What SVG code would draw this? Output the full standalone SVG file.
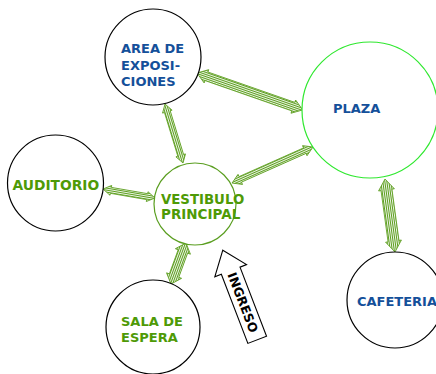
<svg xmlns="http://www.w3.org/2000/svg" width="436" height="374" viewBox="0 0 436 374">
<style>
.node{fill:#fff;stroke:#000;stroke-width:1.2}
.t{font-family:"DejaVu Sans","Verdana",sans-serif;font-weight:bold;font-size:13px}
.blue{fill:#14509a}
.green{fill:#4e9a06}
.arr{fill:url(#stripes);stroke:#5c9e1e;stroke-width:0.8;stroke-linejoin:miter}
</style>
<defs>
<pattern id="stripes" patternUnits="userSpaceOnUse" width="4" height="2">
<rect x="0" y="0" width="4" height="2" fill="#fff"/>
<rect x="0" y="0" width="4" height="1.1" fill="#5c9e1e"/>
</pattern>
</defs>
<rect width="436" height="374" fill="#fff"/>
<g id="connectors">
<g transform="translate(197,73) rotate(19.24)"><polygon class="arr" points="0,0 10,-7 10,-4.5 102,-4.5 102,-7 112,0 102,7 102,4.5 10,4.5 10,7"/></g>
<g transform="translate(165,104) rotate(73)"><polygon class="arr" points="0,0 8,-5 8,-3 53.7,-3 53.7,-5 61.7,0 53.7,5 53.7,3 8,3 8,5"/></g>
<g transform="translate(103,189) rotate(9.8)"><polygon class="arr" points="0,0 8,-5 8,-3 44.8,-3 44.8,-5 52.8,0 44.8,5 44.8,3 8,3 8,5"/></g>
<g transform="translate(313,147) rotate(156)"><polygon class="arr" points="0,0 9,-5.5 9,-3 79.6,-3 79.6,-5.5 88.6,0 79.6,5.5 79.6,3 9,3 9,5.5"/></g>
<g transform="translate(186,243) rotate(110.1)"><polygon class="arr" points="0,0 9,-8 9,-5 34.7,-5 34.7,-8 43.7,0 34.7,8 34.7,5 9,5 9,8"/></g>
<g transform="translate(385,179) rotate(82.2)"><polygon class="arr" points="0,0 11,-8 11,-5.5 62.7,-5.5 62.7,-8 73.7,0 62.7,8 62.7,5.5 11,5.5 11,8"/></g>
</g>
<g id="area">
<circle class="node" cx="153" cy="57" r="48"/>
<text class="t blue" x="121" y="53">AREA DE</text>
<text class="t blue" x="121" y="70">EXPOSI-</text>
<text class="t blue" x="121" y="86">CIONES</text>
</g>
<g id="plaza">
<circle cx="370" cy="110" r="68" fill="#fff" stroke="#2fe82f" stroke-width="1.2"/>
<text class="t blue" x="333" y="113">PLAZA</text>
</g>
<g id="auditorio">
<circle class="node" cx="55.5" cy="183" r="48"/>
<text class="t green" x="12.5" y="189.5" style="font-size:13.8px">AUDITORIO</text>
</g>
<g id="vestibulo">
<circle cx="195" cy="204" r="41" fill="#fff" stroke="#5a9e20" stroke-width="1.2"/>
<text class="t green" x="161" y="203.5" style="font-size:13.3px">VESTIBULO</text>
<text class="t green" x="161" y="219" style="font-size:13.5px">PRINCIPAL</text>
</g>
<g id="sala">
<circle class="node" cx="153" cy="327" r="47"/>
<text class="t green" x="121" y="326">SALA DE</text>
<text class="t green" x="121" y="342">ESPERA</text>
</g>
<g id="cafeteria">
<circle class="node" cx="395" cy="300" r="48"/>
<text class="t blue" x="357" y="306">CAFETERIA</text>
</g>
<g id="ingreso" transform="translate(240,295) rotate(69)">
<polygon points="-48,0 -26,-17 -26,-10 48,-10 48,10 -26,10 -26,17" fill="#fff" stroke="#000" stroke-width="1.1"/>
<text class="t" x="8" y="4.5" text-anchor="middle" fill="#000" style="font-size:12.5px">INGRESO</text>
</g>
</svg>
